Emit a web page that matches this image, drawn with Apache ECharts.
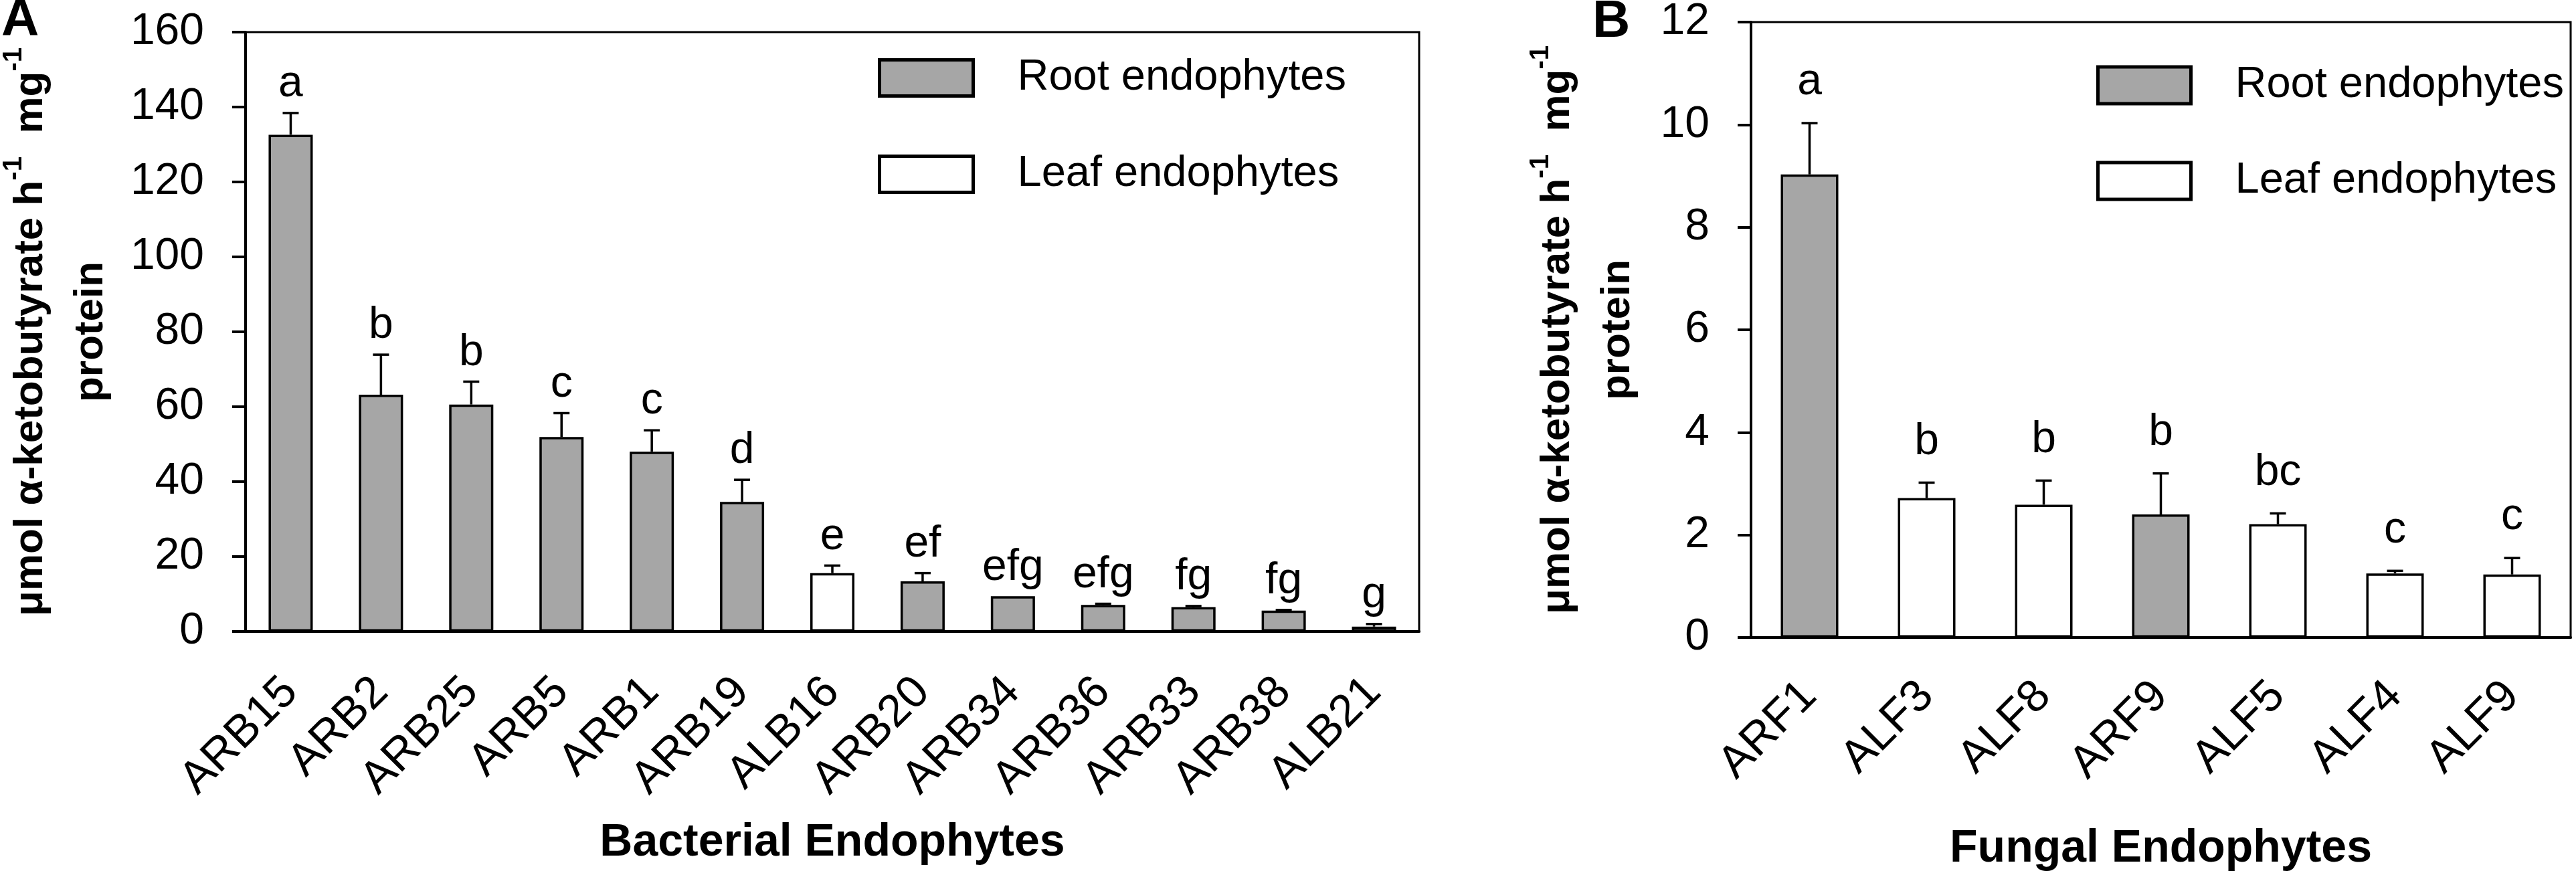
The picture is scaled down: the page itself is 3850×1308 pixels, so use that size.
<!DOCTYPE html>
<html>
<head>
<meta charset="utf-8">
<title>Endophyte ACC deaminase activity</title>
<script src="https://cdn.jsdelivr.net/npm/echarts@6/dist/echarts.min.js"></script>
<style>
    html, body { margin: 0; padding: 0; background: #fff; }
    #chart { width: 3850px; height: 1308px; }
</style>
</head>
<body>
<div id="chart"></div>
<script>
// Panel A - bacterial endophytes
const bactNames = ['ARB15', 'ARB2', 'ARB25', 'ARB5', 'ARB1', 'ARB19', 'ALB16', 'ARB20', 'ARB34', 'ARB36', 'ARB33', 'ARB38', 'ALB21'];
const bactMeans = [132.6, 63.2, 60.6, 51.9, 48.0, 34.6, 15.6, 13.4, 9.4, 7.1, 6.5, 5.6, 1.3];
const bactErrors = [5.8, 10.7, 6.1, 6.4, 5.7, 5.9, 2.0, 2.2, 0, 0.3, 0.3, 0.15, 0.7];
const bactOrigin = ['root', 'root', 'root', 'root', 'root', 'root', 'leaf', 'root', 'root', 'root', 'root', 'root', 'leaf'];
const bactLetters = ['a', 'b', 'b', 'c', 'c', 'd', 'e', 'ef', 'efg', 'efg', 'fg', 'fg', 'g'];
const bactRange = [0, 160, 20];

// Panel B - fungal endophytes
const fungNames = ['ARF1', 'ALF3', 'ALF8', 'ARF9', 'ALF5', 'ALF4', 'ALF9'];
const fungMeans = [9.03, 2.72, 2.59, 2.40, 2.21, 1.25, 1.23];
const fungErrors = [1.0, 0.3, 0.47, 0.8, 0.21, 0.05, 0.32];
const fungOrigin = ['root', 'leaf', 'leaf', 'root', 'leaf', 'leaf', 'leaf'];
const fungLetters = ['a', 'b', 'b', 'b', 'bc', 'c', 'c'];
const fungRange = [0, 12, 2];

const FONT = '"Liberation Sans", Arial, sans-serif';
const ROOT_NAME = 'Root endophytes';
const LEAF_NAME = 'Leaf endophytes';
const GREY = '#a6a6a6';

const chart = echarts.init(document.getElementById('chart'));

// y-axis title with superscript -1
const yTitle = '{t|μmol α-ketobutyrate h}{s|-1}{t|  mg}{s|-1}\n{t|protein}';
const yTitleRich = {
    t: { fontSize: 62, fontWeight: 'bold', fontFamily: FONT, color: '#000', lineHeight: 90 },
    s: { fontSize: 40, fontWeight: 'bold', fontFamily: FONT, color: '#000', lineHeight: 56, verticalAlign: 'top' }
};

function makeXAxis(gridIndex, names, title, labelMargin) {
    return {
        type: 'category',
        gridIndex: gridIndex,
        data: names,
        axisLine: { lineStyle: { color: '#000', width: 4 } },
        axisTick: { alignWithLabel: true, length: 18, lineStyle: { color: '#000', width: 4 } },
        axisLabel: { rotate: 45, fontSize: 68, fontFamily: FONT, color: '#000', margin: labelMargin, interval: 0 },
        name: title,
        nameLocation: 'middle',
        nameGap: 282,
        nameTextStyle: { fontSize: 68, fontWeight: 'bold', fontFamily: FONT, color: '#000' }
    };
}

function makeYAxis(gridIndex, range, nameGap) {
    return {
        type: 'value',
        gridIndex: gridIndex,
        min: range[0],
        max: range[1],
        interval: range[2],
        axisLine: { show: true, lineStyle: { color: '#000', width: 4 } },
        axisTick: { show: true, length: 20, lineStyle: { color: '#000', width: 4 } },
        splitLine: { show: false },
        axisLabel: { fontSize: 66, fontFamily: FONT, color: '#000', margin: 62 },
        name: yTitle,
        nameLocation: 'middle',
        nameRotate: 90,
        nameGap: nameGap,
        nameTextStyle: { rich: yTitleRich, align: 'center' }
    };
}

function barSeries(name, kind, means, origin, axisIndex, width) {
    return {
        name: name,
        type: 'bar',
        xAxisIndex: axisIndex,
        yAxisIndex: axisIndex,
        stack: 'panel' + axisIndex,
        barWidth: width,
        itemStyle: {
            color: kind === 'root' ? GREY : '#fff',
            borderColor: '#000',
            borderWidth: 3.5
        },
        data: means.map((v, i) => origin[i] === kind ? v : '-')
    };
}

// error bars (upper only) and significance letters
function errorSeries(means, errors, letters, axisIndex, capHalf, gap) {
    return {
        type: 'custom',
        xAxisIndex: axisIndex,
        yAxisIndex: axisIndex,
        z: 5,
        silent: true,
        data: means.map((v, i) => [i, v, errors[i]]),
        renderItem: function(params, api) {
            const i = api.value(0);
            const v = api.value(1);
            const e = api.value(2);
            const p0 = api.coord([i, v]);
            const p1 = api.coord([i, v + e]);
            const stroke = { stroke: '#000', lineWidth: 3.5 };
            const kids = [];
            if (e > 0) {
                kids.push({ type: 'line', shape: { x1: p0[0], y1: p0[1], x2: p1[0], y2: p1[1] }, style: stroke });
                kids.push({ type: 'line', shape: { x1: p1[0] - capHalf, y1: p1[1], x2: p1[0] + capHalf, y2: p1[1] }, style: stroke });
            }
            kids.push({
                type: 'text',
                x: p1[0],
                y: p1[1] - gap,
                style: {
                    text: letters[params.dataIndex],
                    fontSize: 66,
                    fontFamily: FONT,
                    fill: '#000',
                    align: 'center',
                    verticalAlign: 'bottom'
                }
            });
            return { type: 'group', children: kids };
        }
    };
}

function makeLegend(left, top, w, h, gap) {
    return {
        data: [ROOT_NAME, LEAF_NAME],
        orient: 'vertical',
        left: left,
        top: top,
        padding: 0,
        itemWidth: w,
        itemHeight: h,
        itemGap: gap,
        icon: 'rect',
        selectedMode: false,
        itemStyle: { borderColor: '#000', borderWidth: 5 },
        textStyle: { fontSize: 65, fontFamily: FONT, color: '#000', padding: [0, 0, 0, 61], lineHeight: h }
    };
}

const option = {
    backgroundColor: '#fff',
    animation: false,
    graphic: [
        { type: 'text', left: 2, top: -8, style: { text: 'A', fontSize: 78, fontWeight: 'bold', fontFamily: FONT, fill: '#000' } },
        { type: 'text', left: 2380, top: -6, style: { text: 'B', fontSize: 78, fontWeight: 'bold', fontFamily: FONT, fill: '#000' } }
    ],
    grid: [
        { left: 353, top: 48, width: 1768, height: 896, show: true, borderColor: '#000', borderWidth: 3, backgroundColor: 'transparent' },
        { left: 2617, top: 32, width: 1225, height: 948, show: true, borderColor: '#000', borderWidth: 3, backgroundColor: 'transparent' }
    ],
    legend: [
        makeLegend(1312, 84, 140, 54, 79),
        makeLegend(3133, 95, 139, 55, 78)
    ],
    xAxis: [
        makeXAxis(0, bactNames, 'Bacterial Endophytes', 80),
        makeXAxis(1, fungNames, 'Fungal Endophytes', 77)
    ],
    yAxis: [
        makeYAxis(0, bactRange, 186),
        makeYAxis(1, fungRange, 154)
    ],
    series: [
        barSeries(ROOT_NAME, 'root', bactMeans, bactOrigin, 0, 66),
        barSeries(LEAF_NAME, 'leaf', bactMeans, bactOrigin, 0, 66),
        errorSeries(bactMeans, bactErrors, bactLetters, 0, 12, 10),
        barSeries(ROOT_NAME, 'root', fungMeans, fungOrigin, 1, 86),
        barSeries(LEAF_NAME, 'leaf', fungMeans, fungOrigin, 1, 86),
        errorSeries(fungMeans, fungErrors, fungLetters, 1, 12, 28)
    ]
};

chart.setOption(option);

window.addEventListener('resize', function() {
    chart.resize();
});
</script>
</body>
</html>
